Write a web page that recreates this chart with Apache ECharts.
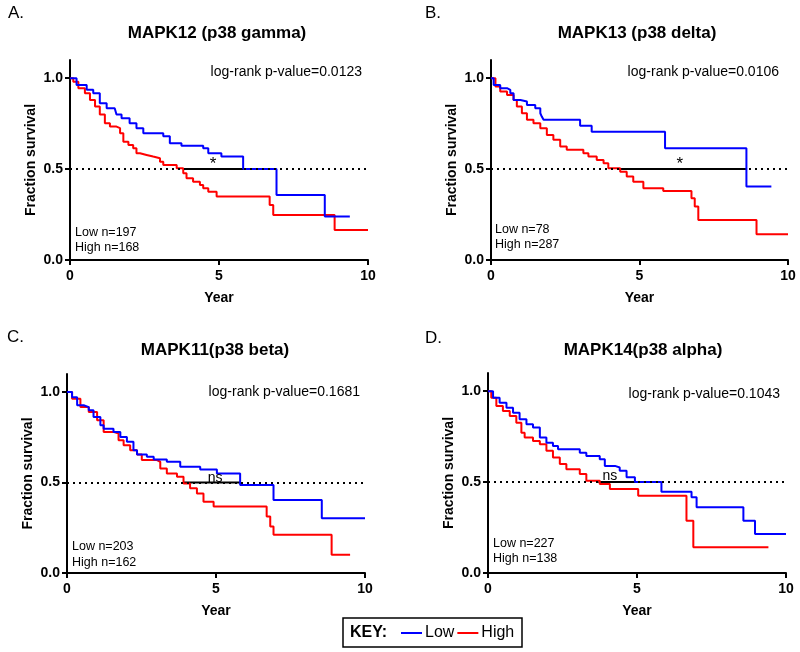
<!DOCTYPE html>
<html>
<head>
<meta charset="utf-8">
<script src="https://cdn.jsdelivr.net/npm/echarts@6/dist/echarts.min.js"></script>
<style>html,body{margin:0;padding:0;background:#fff}#c{width:800px;height:652px}</style>
</head>
<body>
<div id="c"></div>
<script>
// ---- data ----
const panelLetters = ['A.', 'B.', 'C.', 'D.'];
const panelTitles = ['MAPK12 (p38 gamma)', 'MAPK13 (p38 delta)', 'MAPK11(p38 beta)', 'MAPK14(p38 alpha)'];
const pValues = ['log-rank p-value=0.0123', 'log-rank p-value=0.0106', 'log-rank p-value=0.1681', 'log-rank p-value=0.1043'];
const lowN = [197, 78, 203, 227];
const highN = [168, 287, 162, 138];
const xTicks = [0, 5, 10];
const yTicks = [0, 0.5, 1.0];

const lowA = [[0,1],[0.22,0.963],[0.56,0.936],[0.78,0.917],[1.0,0.862],[1.23,0.835],[1.5,0.826],[1.56,0.80],[1.73,0.78],[2.0,0.752],[2.23,0.725],[2.46,0.697],[3.13,0.68],[3.35,0.642],[3.74,0.628],[4.47,0.615],[4.64,0.587],[5.08,0.569],[5.81,0.5],[6.93,0.358],[8.55,0.239],[9.39,0.239]];
const highA = [[0,1],[0.11,0.98],[0.28,0.945],[0.5,0.917],[0.67,0.88],[0.84,0.844],[1.0,0.80],[1.17,0.752],[1.34,0.734],[1.56,0.725],[1.68,0.697],[1.79,0.651],[1.96,0.633],[2.12,0.615],[2.23,0.587],[2.35,0.578],[2.57,0.569],[2.79,0.56],[3.02,0.541],[3.13,0.523],[3.58,0.505],[3.8,0.477],[3.91,0.45],[4.13,0.431],[4.36,0.413],[4.47,0.394],[4.64,0.376],[4.92,0.349],[6.7,0.303],[6.82,0.248],[8.88,0.165],[10,0.165]];
const lowB = [[0,1],[0.09,0.963],[0.31,0.945],[0.54,0.936],[0.65,0.917],[0.76,0.88],[0.99,0.872],[1.21,0.853],[1.49,0.835],[1.66,0.807],[1.71,0.789],[1.77,0.771],[3.0,0.738],[3.39,0.706],[5.86,0.615],[8.6,0.404],[9.44,0.404]];
const highB = [[0,1],[0.15,0.954],[0.31,0.927],[0.54,0.908],[0.76,0.88],[0.87,0.844],[1.04,0.807],[1.21,0.771],[1.43,0.752],[1.66,0.725],[1.88,0.688],[2.1,0.661],[2.33,0.624],[2.55,0.606],[3.11,0.587],[3.28,0.569],[3.56,0.55],[3.79,0.532],[3.95,0.505],[4.35,0.486],[4.57,0.459],[4.79,0.431],[5.13,0.394],[5.8,0.38],[6.75,0.339],[6.86,0.294],[6.98,0.22],[8.94,0.141],[10.0,0.141]];
const lowC = [[0,1],[0.17,0.972],[0.34,0.927],[0.56,0.917],[0.73,0.899],[0.89,0.862],[1.12,0.817],[1.23,0.798],[1.56,0.78],[1.79,0.752],[2.01,0.725],[2.23,0.679],[2.35,0.655],[2.68,0.642],[2.91,0.628],[3.35,0.615],[3.8,0.587],[4.47,0.572],[5.03,0.55],[5.81,0.486],[6.93,0.404],[8.55,0.303],[10,0.303]];
const highC = [[0,1],[0.17,0.963],[0.45,0.917],[0.73,0.89],[1.01,0.844],[1.23,0.78],[1.56,0.771],[1.73,0.734],[1.9,0.706],[2.12,0.679],[2.35,0.655],[2.51,0.624],[3.02,0.615],[3.13,0.578],[3.35,0.55],[3.69,0.532],[3.91,0.495],[4.13,0.468],[4.36,0.44],[4.58,0.394],[4.92,0.367],[6.7,0.312],[6.82,0.257],[6.93,0.211],[8.88,0.101],[9.5,0.101]];
const lowD = [[0,1],[0.17,0.964],[0.39,0.936],[0.62,0.909],[0.84,0.881],[1.06,0.845],[1.29,0.818],[1.51,0.8],[1.74,0.745],[1.96,0.717],[2.18,0.699],[2.35,0.681],[3.08,0.662],[3.3,0.644],[3.75,0.626],[3.92,0.589],[4.26,0.58],[4.42,0.562],[4.65,0.526],[4.93,0.5],[5.82,0.447],[6.83,0.416],[7.0,0.361],[8.57,0.288],[8.96,0.215],[10,0.215]];
const highD = [[0,1],[0.11,0.964],[0.28,0.918],[0.5,0.891],[0.73,0.863],[0.95,0.827],[1.12,0.772],[1.23,0.745],[1.51,0.726],[1.74,0.708],[1.96,0.672],[2.18,0.635],[2.41,0.599],[2.63,0.571],[3.08,0.544],[3.3,0.507],[3.75,0.489],[4.09,0.462],[5.04,0.425],[6.66,0.288],[6.89,0.142],[9.41,0.142]];

const lowSeries = [lowA, lowB, lowC, lowD];
const highSeries = [highA, highB, highC, highD];
// median survival times [High, Low]
const medians = [[3.8, 5.81], [4.3, 8.6], [3.9, 5.81], [3.7, 4.93]];
const sigLabels = ['*', '*', 'ns', 'ns'];
const sigPos = [[4.8, 0.525], [6.36, 0.525], [4.97, 0.525], [4.09, 0.535]];

// ---- layout ----
const FONT = 'Liberation Sans, Arial, Helvetica, sans-serif';
const grids = [
  {left: 70, top: 60, width: 298, height: 200},
  {left: 491, top: 60, width: 297, height: 200},
  {left: 67, top: 374, width: 298, height: 199},
  {left: 488, top: 373, width: 298, height: 200}
];
const letterPos = [[8, 13], [425, 13], [7, 337], [425, 338]];
const titlePos = [[217, 33], [637, 33], [215, 350], [643, 350]];
const pPos = [[362, 72], [779, 72], [360, 392], [780, 394]];
const nPos = [[75, 233, 248], [495, 230, 245], [72, 547, 563], [493, 544, 559]];

const axisCommon = {
  axisLine: {show: true, onZero: false, lineStyle: {color: '#000', width: 2}},
  axisTick: {show: true, length: 5, lineStyle: {color: '#000', width: 2}},
  splitLine: {show: false},
  axisLabel: {color: '#000', fontWeight: 'bold', fontSize: 14, fontFamily: FONT},
  nameTextStyle: {color: '#000', fontWeight: 'bold', fontSize: 14, fontFamily: FONT}
};

const xAxes = [], yAxes = [], series = [], graphics = [];
for (let i = 0; i < 4; i++) {
  xAxes.push(Object.assign({}, axisCommon, {
    gridIndex: i, type: 'value', min: 0, max: 10, interval: 5,
    name: 'Year', nameLocation: 'middle', nameGap: 31,
    axisTick: Object.assign({}, axisCommon.axisTick, {customValues: xTicks}),
    axisLabel: Object.assign({}, axisCommon.axisLabel, {margin: 9, customValues: xTicks})
  }));
  yAxes.push(Object.assign({}, axisCommon, {
    gridIndex: i, type: 'value', min: 0, max: 1.1, interval: 0.5,
    name: 'Fraction survival', nameLocation: 'middle', nameGap: 32,
    axisTick: Object.assign({}, axisCommon.axisTick, {customValues: yTicks}),
    axisLabel: Object.assign({}, axisCommon.axisLabel, {margin: 7, customValues: yTicks, formatter: v => v.toFixed(1)})
  }));
  series.push({
    type: 'line', xAxisIndex: i, yAxisIndex: i, silent: true,
    data: [[medians[i][0], 0.5], [medians[i][1], 0.5]],
    symbol: 'none', lineStyle: {color: '#000', width: 2}, z: 2,
    markLine: {
      silent: true, symbol: 'none', label: {show: false},
      lineStyle: {color: '#000', type: [2, 4], width: 2},
      data: [{yAxis: 0.5}]
    }
  });
  series.push({
    name: 'High', type: 'line', step: 'end', xAxisIndex: i, yAxisIndex: i,
    data: highSeries[i], symbol: 'none', color: '#ff0000',
    lineStyle: {color: '#ff0000', width: 2}, z: 3
  });
  series.push({
    name: 'Low', type: 'line', step: 'end', xAxisIndex: i, yAxisIndex: i,
    data: lowSeries[i], symbol: 'none', color: '#0000ff',
    lineStyle: {color: '#0000ff', width: 2}, z: 4
  });
  series.push({
    type: 'scatter', xAxisIndex: i, yAxisIndex: i, silent: true,
    data: [sigPos[i]], symbolSize: 0, itemStyle: {color: '#000', opacity: 1},
    label: {show: true, position: 'inside', formatter: sigLabels[i], color: '#000',
      opacity: 1, textBorderWidth: 0,
      fontSize: sigLabels[i] === '*' ? 17 : 14, fontFamily: FONT}, z: 5
  });

  graphics.push({type: 'text', x: letterPos[i][0], y: letterPos[i][1],
    style: {text: panelLetters[i], fill: '#000', font: '17px ' + FONT, textAlign: 'left', textVerticalAlign: 'middle', align: 'left', verticalAlign: 'middle'}});
  graphics.push({type: 'text', x: titlePos[i][0], y: titlePos[i][1],
    style: {text: panelTitles[i], fill: '#000', font: 'bold 17px ' + FONT, textAlign: 'center', textVerticalAlign: 'middle', align: 'center', verticalAlign: 'middle'}});
  graphics.push({type: 'text', x: pPos[i][0], y: pPos[i][1],
    style: {text: pValues[i], fill: '#000', font: '14px ' + FONT, textAlign: 'right', textVerticalAlign: 'middle', align: 'right', verticalAlign: 'middle'}});
  graphics.push({type: 'text', x: nPos[i][0], y: nPos[i][1],
    style: {text: 'Low n=' + lowN[i], fill: '#000', font: '12.5px ' + FONT, textAlign: 'left', textVerticalAlign: 'middle', align: 'left', verticalAlign: 'middle'}});
  graphics.push({type: 'text', x: nPos[i][0], y: nPos[i][2],
    style: {text: 'High n=' + highN[i], fill: '#000', font: '12.5px ' + FONT, textAlign: 'left', textVerticalAlign: 'middle', align: 'left', verticalAlign: 'middle'}});
}

// key box
graphics.push({type: 'rect', shape: {x: 343, y: 618, width: 179, height: 29},
  style: {fill: 'none', stroke: '#000', lineWidth: 1.5}});
graphics.push({type: 'text', x: 350, y: 633,
  style: {text: 'KEY:', fill: '#000', font: 'bold 16px ' + FONT, textAlign: 'left', textVerticalAlign: 'middle', align: 'left', verticalAlign: 'middle'}});

const chart = echarts.init(document.getElementById('c'), null, {renderer: 'canvas'});
chart.setOption({
  backgroundColor: '#fff',
  animation: false,
  textStyle: {fontFamily: FONT},
  grid: grids,
  xAxis: xAxes,
  yAxis: yAxes,
  legend: {
    data: ['Low', 'High'], left: 401, top: 625, padding: 0, icon: 'rect',
    itemWidth: 21, itemHeight: 2, itemGap: 3, selectedMode: false,
    textStyle: {color: '#000', fontSize: 16, fontFamily: FONT, padding: [0, 0, 0, -2]}
  },
  series: series,
  graphic: graphics
});
</script>
</body>
</html>
